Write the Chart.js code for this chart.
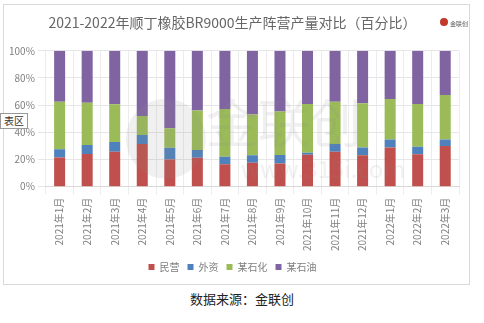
<!DOCTYPE html>
<html>
<head>
<meta charset="utf-8">
<script src="https://cdn.jsdelivr.net/npm/chart.js@4"></script>
<style>
  body { margin: 0; background: #fff; width: 484px; height: 323px; overflow: hidden; font-family: "Noto Sans CJK SC", "Noto Sans", sans-serif; }
  #frame { position: absolute; left: 3px; top: 4px; width: 467px; height: 281px; border: 1px solid #d9d9d9; box-sizing: border-box; }
  #chart { position: absolute; left: 0; top: 0; }
  #tip { position: absolute; left: 0; top: 113px; height: 14px; padding: 0 3px; border: 1px solid #999; background: #fff; font-size: 10px; line-height: 14px; color: #333; }
  #source { position: absolute; left: 0; width: 484px; top: 289px; text-align: center; font-size: 13px; color: #222; }
</style>
</head>
<body>
<div id="frame"><canvas id="chart" width="465" height="279"></canvas></div>
<div id="tip">表区</div>
<div id="source">数据来源：金联创</div>
<script>
// ---- Data ----
const months = ["2021年1月", "2021年2月", "2021年3月", "2021年4月", "2021年5月", "2021年6月", "2021年7月", "2021年8月",
  "2021年9月", "2021年10月", "2021年11月", "2021年12月", "2022年1月", "2022年2月", "2022年3月"];
const privateShare = [21.4, 24.0, 25.7, 31.4, 20.1, 21.3, 16.6, 17.7, 17.0, 23.6, 25.7, 23.2, 28.9, 23.8, 29.9];
const foreignShare = [6.1, 6.6, 7.2, 6.6, 8.6, 5.7, 5.4, 5.5, 6.3, 1.3, 5.7, 5.7, 5.9, 5.6, 4.9];
const petrochemShare = [35.1, 31.2, 27.8, 14.0, 14.3, 29.0, 35.2, 30.0, 32.0, 35.9, 31.2, 32.5, 29.7, 31.5, 32.7];
const petroleumShare = [37.4, 38.2, 39.3, 48.0, 57.0, 44.0, 42.8, 46.8, 44.7, 39.2, 37.4, 38.6, 35.5, 39.1, 32.5];
const yTicks = [0, 10, 20, 30, 40, 50, 60, 70, 80, 90, 100];

const textColor = "#666666";
const fontFamily = "'Noto Sans CJK SC', 'Noto Sans', sans-serif";

// faint watermark like the original export
const watermark = {
  id: "watermark",
  afterDatasetsDraw(chart) {
    const { ctx, chartArea } = chart;
    ctx.save();
    ctx.globalAlpha = 0.13;
    ctx.fillStyle = "#8c8c8c";
    ctx.font = "52px " + fontFamily;
    ctx.textBaseline = "middle";
    ctx.fillText("金联创", chartArea.left + 160, chartArea.top + 72);
    ctx.font = "24px " + fontFamily;
    ctx.fillText("www.315i.com", chartArea.left + 195, chartArea.top + 118);
    ctx.beginPath();
    ctx.arc(chartArea.left + 120, chartArea.top + 88, 40, 0, Math.PI * 2);
    ctx.fill();
    ctx.restore();
    // small logo top right
    ctx.save();
    ctx.fillStyle = "#c0392b";
    ctx.beginPath();
    ctx.arc(440, 17, 4, 0, Math.PI * 2);
    ctx.fill();
    ctx.fillStyle = "#555";
    ctx.font = "6px " + fontFamily;
    ctx.fillText("金联创", 446, 19);
    ctx.restore();
  }
};

const ctx = document.getElementById("chart");
new Chart(ctx, {
  type: "bar",
  data: {
    labels: months,
    datasets: [
      { label: "民营", data: privateShare, backgroundColor: "#C0504D" },
      { label: "外资", data: foreignShare, backgroundColor: "#4F81BD" },
      { label: "某石化", data: petrochemShare, backgroundColor: "#9BBB59" },
      { label: "某石油", data: petroleumShare, backgroundColor: "#8064A2" },
    ],
  },
  options: {
    responsive: false,
    animation: false,
    layout: { padding: { left: 2, right: 10, top: 0, bottom: 2 } },
    datasets: { bar: { barPercentage: 0.4, categoryPercentage: 1.0 } },
    scales: {
      x: {
        stacked: true,
        grid: { color: "#ececec", offset: true },
        border: { color: "#d9d9d9" },
        ticks: {
          minRotation: 90,
          maxRotation: 90,
          color: "#7f7f7f",
          font: { size: 10, family: fontFamily },
          padding: 3,
        },
      },
      y: {
        stacked: true,
        min: 0,
        max: 100,
        afterBuildTicks: (axis) => { axis.ticks = yTicks.map((v) => ({ value: v })); },
        grid: { color: "#e6e6e6" },
        border: { display: false },
        ticks: {
          color: "#7f7f7f",
          font: { size: 10, family: fontFamily },
          callback: (v) => v + "%",
        },
      },
    },
    plugins: {
      title: {
        display: true,
        text: "2021-2022年顺丁橡胶BR9000生产阵营产量对比（百分比）",
        color: textColor,
        font: { size: 14, weight: "normal", family: fontFamily },
        padding: { top: 9, bottom: 20 },
      },
      legend: {
        position: "bottom",
        labels: {
          boxWidth: 6,
          boxHeight: 6,
          color: "#7f7f7f",
          font: { size: 10, family: fontFamily },
          padding: 8,
        },
      },
      tooltip: { enabled: false },
    },
  },
  plugins: [watermark],
});
</script>
</body>
</html>
